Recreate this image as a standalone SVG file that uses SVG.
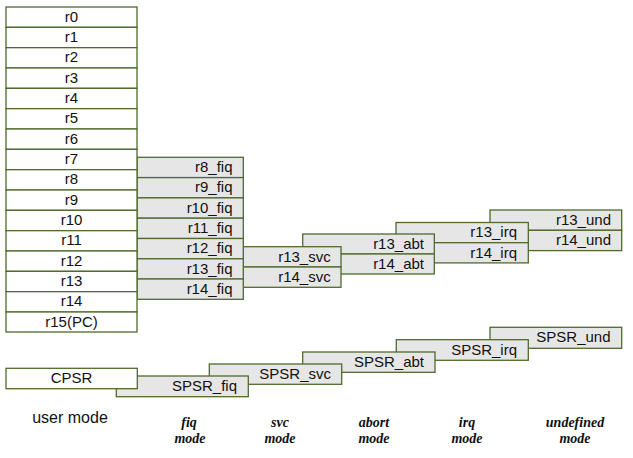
<svg xmlns="http://www.w3.org/2000/svg" width="633" height="458" viewBox="0 0 633 458">
<style>
.u{fill:#ffffff;stroke:#4f6a2c;stroke-width:1.3}
.b{fill:#e6e6e6;stroke:#4f6a2c;stroke-width:1.3}
.t{font-family:"Liberation Sans",Arial,sans-serif;font-size:15px;fill:#111}
.c{text-anchor:middle}
.r{text-anchor:end}
.m{font-family:"Liberation Serif","Times New Roman",serif;font-style:italic;font-weight:bold;font-size:14px;fill:#111;text-anchor:middle}
</style>
<rect width="633" height="458" fill="#ffffff"/>
<g id="connectors"></g>
<!-- undefined bank -->
<g id="r13_und"><rect class="b" x="490" y="210" width="131.7" height="20.3"/><text class="t r" x="611" y="224.8">r13_und</text></g>
<g id="r14_und"><rect class="b" x="490" y="230.3" width="131.7" height="20.3"/><text class="t r" x="611" y="245.1">r14_und</text></g>
<!-- irq bank -->
<g id="r13_irq"><rect class="b" x="396" y="222.5" width="132.3" height="20.2"/><text class="t r" x="517" y="237.3">r13_irq</text></g>
<g id="r14_irq"><rect class="b" x="396" y="242.7" width="132.3" height="20.2"/><text class="t r" x="517" y="257.5">r14_irq</text></g>
<!-- abort bank -->
<g id="r13_abt"><rect class="b" x="302.7" y="234" width="131.6" height="20"/><text class="t r" x="424" y="248.8">r13_abt</text></g>
<g id="r14_abt"><rect class="b" x="302.7" y="254" width="131.6" height="20"/><text class="t r" x="424" y="268.8">r14_abt</text></g>
<!-- svc bank -->
<g id="r13_svc"><rect class="b" x="243.3" y="246.7" width="97.7" height="20.3"/><text class="t r" x="330.7" y="261.7">r13_svc</text></g>
<g id="r14_svc"><rect class="b" x="243.3" y="267" width="97.7" height="20.3"/><text class="t r" x="330.7" y="282">r14_svc</text></g>
<!-- fiq bank -->
<g id="r8_fiq"><rect class="b" x="137" y="157.3" width="106.3" height="20.3"/><text class="t r" x="232.5" y="172.1">r8_fiq</text></g>
<g id="r9_fiq"><rect class="b" x="137" y="177.6" width="106.3" height="20.3"/><text class="t r" x="232.5" y="192.4">r9_fiq</text></g>
<g id="r10_fiq"><rect class="b" x="137" y="197.9" width="106.3" height="20.3"/><text class="t r" x="232.5" y="212.7">r10_fiq</text></g>
<g id="r11_fiq"><rect class="b" x="137" y="218.2" width="106.3" height="20.3"/><text class="t r" x="232.5" y="233">r11_fiq</text></g>
<g id="r12_fiq"><rect class="b" x="137" y="238.5" width="106.3" height="20.3"/><text class="t r" x="232.5" y="253.3">r12_fiq</text></g>
<g id="r13_fiq"><rect class="b" x="137" y="258.8" width="106.3" height="20.3"/><text class="t r" x="232.5" y="273.6">r13_fiq</text></g>
<g id="r14_fiq"><rect class="b" x="137" y="279" width="106.3" height="20.3"/><text class="t r" x="232.5" y="293.8">r14_fiq</text></g>
<!-- user bank -->
<g id="r0"><rect class="u" x="6" y="7" width="131" height="20.33"/><text class="t c" x="71.5" y="21.6">r0</text></g>
<g id="r1"><rect class="u" x="6" y="27.33" width="131" height="20.33"/><text class="t c" x="71.5" y="41.9">r1</text></g>
<g id="r2"><rect class="u" x="6" y="47.67" width="131" height="20.33"/><text class="t c" x="71.5" y="62.3">r2</text></g>
<g id="r3"><rect class="u" x="6" y="68" width="131" height="20.33"/><text class="t c" x="71.5" y="82.6">r3</text></g>
<g id="r4"><rect class="u" x="6" y="88.33" width="131" height="20.33"/><text class="t c" x="71.5" y="102.9">r4</text></g>
<g id="r5"><rect class="u" x="6" y="108.67" width="131" height="20.33"/><text class="t c" x="71.5" y="123.3">r5</text></g>
<g id="r6"><rect class="u" x="6" y="129" width="131" height="20.33"/><text class="t c" x="71.5" y="143.6">r6</text></g>
<g id="r7"><rect class="u" x="6" y="149.33" width="131" height="20.33"/><text class="t c" x="71.5" y="163.9">r7</text></g>
<g id="r8"><rect class="u" x="6" y="169.67" width="131" height="20.33"/><text class="t c" x="71.5" y="184.3">r8</text></g>
<g id="r9"><rect class="u" x="6" y="190" width="131" height="20.33"/><text class="t c" x="71.5" y="204.6">r9</text></g>
<g id="r10"><rect class="u" x="6" y="210.33" width="131" height="20.33"/><text class="t c" x="71.5" y="224.9">r10</text></g>
<g id="r11"><rect class="u" x="6" y="230.67" width="131" height="20.33"/><text class="t c" x="71.5" y="245.3">r11</text></g>
<g id="r12"><rect class="u" x="6" y="251" width="131" height="20.33"/><text class="t c" x="71.5" y="265.6">r12</text></g>
<g id="r13"><rect class="u" x="6" y="271.33" width="131" height="20.33"/><text class="t c" x="71.5" y="285.9">r13</text></g>
<g id="r14"><rect class="u" x="6" y="291.67" width="131" height="20.33"/><text class="t c" x="71.5" y="306.3">r14</text></g>
<g id="r15"><rect class="u" x="6" y="312" width="131" height="20"/><text class="t c" x="71.5" y="326.6">r15(PC)</text></g>
<!-- status registers -->
<g id="SPSR_und"><rect class="b" x="490" y="327.3" width="131.7" height="21"/><text class="t r" x="610.5" y="342.3">SPSR_und</text></g>
<g id="SPSR_irq"><rect class="b" x="396.3" y="339.7" width="132" height="20.6"/><text class="t r" x="517" y="354.6">SPSR_irq</text></g>
<g id="SPSR_abt"><rect class="b" x="302.7" y="352" width="132.3" height="20.3"/><text class="t r" x="424" y="366.9">SPSR_abt</text></g>
<g id="SPSR_svc"><rect class="b" x="209.3" y="364" width="132.4" height="20.3"/><text class="t r" x="331" y="379.1">SPSR_svc</text></g>
<g id="SPSR_fiq"><rect class="b" x="116.3" y="376" width="132" height="20.7"/><text class="t r" x="237" y="391.2">SPSR_fiq</text></g>
<g id="CPSR"><rect class="u" x="6" y="368.3" width="131.3" height="20.4"/><text class="t c" x="71.5" y="383.2">CPSR</text></g>
<!-- mode labels -->
<g id="labels">
<text class="t c" x="70" y="422.5" style="font-size:16px">user mode</text>
<text class="m" x="189" y="427">fiq</text><text class="m" x="190" y="443">mode</text>
<text class="m" x="280" y="427">svc</text><text class="m" x="280" y="443">mode</text>
<text class="m" x="374" y="427">abort</text><text class="m" x="374" y="443">mode</text>
<text class="m" x="467" y="427">irq</text><text class="m" x="467" y="443">mode</text>
<text class="m" x="575" y="427">undefined</text><text class="m" x="575" y="443">mode</text>
</g>
</svg>
